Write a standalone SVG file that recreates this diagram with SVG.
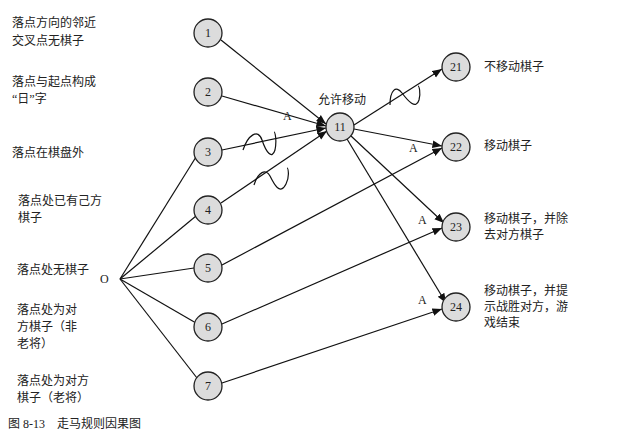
<svg xmlns="http://www.w3.org/2000/svg" width="640" height="438" viewBox="0 0 640 438">
<style>
text{font-family:"Liberation Serif","Noto Sans CJK SC",serif;font-size:12px;fill:#222}
.n circle{fill:#dcdcdc;stroke:#222;stroke-width:1.3}
.n text{text-anchor:middle;font-size:12px}
.c line,.c path{stroke:#111;stroke-width:1.2;fill:none}
</style>
<defs><marker id="a" viewBox="0 0 10 10" refX="10" refY="5" markerWidth="8" markerHeight="8" orient="auto"><path d="M0,1 L10,5 L0,9 z" fill="#111"/></marker></defs>
<rect width="640" height="438" fill="#fff"/>
<g class="c">
<line x1="221" y1="40" x2="326" y2="124" marker-end="url(#a)"/>
<line x1="222" y1="96" x2="326" y2="126" marker-end="url(#a)"/>
<line x1="222" y1="150" x2="326" y2="128" marker-end="url(#a)"/>
<line x1="221" y1="203" x2="327" y2="131" marker-end="url(#a)"/>
<line x1="120" y1="279" x2="196" y2="157"/>
<line x1="120" y1="279" x2="196" y2="216"/>
<line x1="120" y1="279" x2="194" y2="268"/>
<line x1="120" y1="279" x2="196" y2="323"/>
<line x1="120" y1="279" x2="197" y2="378"/>
<line x1="222" y1="265" x2="442" y2="148" marker-end="url(#a)"/>
<line x1="222" y1="324" x2="442" y2="228" marker-end="url(#a)"/>
<line x1="222" y1="383" x2="442" y2="309" marker-end="url(#a)"/>
<line x1="354" y1="125" x2="442" y2="69" marker-end="url(#a)"/>
<line x1="354" y1="129" x2="442" y2="146" marker-end="url(#a)"/>
<line x1="351" y1="136" x2="444" y2="223" marker-end="url(#a)"/>
<line x1="347" y1="139" x2="446" y2="303" marker-end="url(#a)"/>
<path d="M243,150 C248,135 258,128 262,140 C266,152 272,160 275,150 C277,140 275,132 274,132"/>
<path d="M254,185 C258,172 266,168 270,176 C274,184 280,196 286,184 C290,176 288,168 287,168"/>
<path d="M390,105 C390,90 396,85 402,93 C408,101 416,110 419,100 C421,92 419,86 418,86"/>
</g>
<g class="n" id="n1"><circle cx="208" cy="33" r="14"/><text x="208" y="37">1</text></g>
<g class="n" id="n2"><circle cx="208" cy="92" r="14"/><text x="208" y="96">2</text></g>
<g class="n" id="n3"><circle cx="208" cy="152" r="14"/><text x="208" y="156">3</text></g>
<g class="n" id="n4"><circle cx="208" cy="210" r="14"/><text x="208" y="214">4</text></g>
<g class="n" id="n5"><circle cx="208" cy="268" r="14"/><text x="208" y="272">5</text></g>
<g class="n" id="n6"><circle cx="208" cy="327" r="14"/><text x="208" y="331">6</text></g>
<g class="n" id="n7"><circle cx="208" cy="386" r="14"/><text x="208" y="390">7</text></g>
<g class="n" id="n11"><circle cx="340" cy="127" r="14"/><text x="340" y="131">11</text></g>
<g class="n" id="n21"><circle cx="456" cy="67" r="14"/><text x="456" y="71">21</text></g>
<g class="n" id="n22"><circle cx="456" cy="147" r="14"/><text x="456" y="151">22</text></g>
<g class="n" id="n23"><circle cx="456" cy="227" r="14"/><text x="456" y="231">23</text></g>
<g class="n" id="n24"><circle cx="456" cy="307" r="14"/><text x="456" y="311">24</text></g>
<g id="labels">
<text x="12" y="27">落点方向的邻近</text><text x="12" y="45">交叉点无棋子</text>
<text x="12" y="86">落点与起点构成</text><text x="12" y="103">“日”字</text>
<text x="12" y="157">落点在棋盘外</text>
<text x="18" y="205">落点处已有己方</text><text x="18" y="222">棋子</text>
<text x="17" y="274">落点处无棋子</text>
<text x="100" y="283">O</text>
<text x="17" y="314">落点处为对</text><text x="17" y="331">方棋子（非</text><text x="17" y="348">老将）</text>
<text x="17" y="385">落点处为对方</text><text x="17" y="402">棋子（老将）</text>
<text x="318" y="104">允许移动</text>
<text x="283" y="120">A</text><text x="409" y="152">A</text><text x="418" y="224">A</text><text x="418" y="304">A</text>
<text x="484" y="71">不移动棋子</text>
<text x="484" y="150">移动棋子</text>
<text x="484" y="223">移动棋子，并除</text><text x="484" y="239">去对方棋子</text>
<text x="484" y="295">移动棋子，并提</text><text x="484" y="311">示战胜对方，游</text><text x="484" y="327">戏结束</text>
<text x="8" y="428">图 8-13　走马规则因果图</text>
</g>
</svg>
